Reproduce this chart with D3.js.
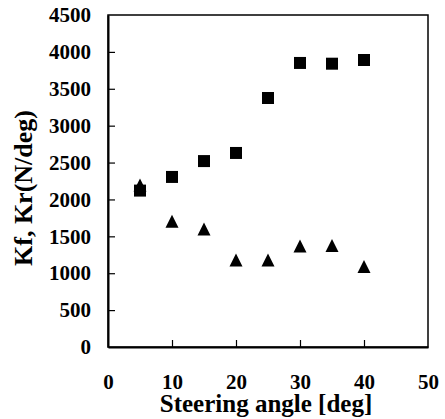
<!DOCTYPE html>
<html>
<head>
<meta charset="utf-8">
<script src="https://cdn.jsdelivr.net/npm/d3@7"></script>
<style>
  body { margin: 0; background: #fff; }
  text { font-family: "Liberation Serif", serif; font-weight: bold; }
</style>
</head>
<body>
<script>
// data
const angles = [5, 10, 15, 20, 25, 30, 35, 40]
const kf = [2120, 2305, 2520, 2630, 3375, 3850, 3840, 3890]   // squares
const kr = [2195, 1705, 1600, 1180, 1180, 1370, 1375, 1090]   // triangles
const x_ticks = [0, 10, 20, 30, 40, 50]
const y_ticks = [0, 500, 1000, 1500, 2000, 2500, 3000, 3500, 4000, 4500]

const width = 445, height = 419
const plot = {left: 108, right: 428, top: 15, bottom: 347}

const svg = d3.select('body').append('svg')
    .attr('width', width)
    .attr('height', height)

const x = d3.scaleLinear().domain([0, 50]).range([plot.left, plot.right])
const y = d3.scaleLinear().domain([0, 4500]).range([plot.bottom, plot.top])

// frame
svg.append('rect')
    .attr('x', plot.left)
    .attr('y', plot.top)
    .attr('width', plot.right - plot.left)
    .attr('height', plot.bottom - plot.top)
    .style('fill', 'none')
    .style('stroke', '#000')
    .style('stroke-width', 1.5)

// axes, ticks pointing inside
const y_axis = svg.append('g')
    .attr('transform', `translate(${plot.left},0)`)
    .call(d3.axisLeft(y).tickValues(y_ticks).tickFormat(d3.format('d'))
        .tickSizeInner(-7).tickSizeOuter(0).tickPadding(17))
const x_axis = svg.append('g')
    .attr('transform', `translate(0,${plot.bottom})`)
    .call(d3.axisBottom(x).tickValues(x_ticks).tickFormat(d3.format('d'))
        .tickSizeInner(-7).tickSizeOuter(0).tickPadding(27))

for (const ax of [x_axis, y_axis]) {
    ax.attr('font-family', null)
    ax.select('.domain').style('stroke-width', 2)
    ax.selectAll('line').style('stroke-width', 1.2)
    ax.selectAll('text')
        .style('font-size', '21px')
        .style('fill', '#000')
}
x_axis.selectAll('.tick').filter(d => d == 0 || d == 50).select('line').remove()
y_axis.selectAll('.tick').filter(d => d == 0 || d == 4500).select('line').remove()

// triangle centred on its bounding box, like the spreadsheet marker
const bbox_triangle = {
    draw(context, size) {
        const s = Math.sqrt(size)
        context.moveTo(0, -s / 2)
        context.lineTo(s / 2, s / 2)
        context.lineTo(-s / 2, s / 2)
        context.closePath()
    }
}

svg.append('g').selectAll('path')
    .data(angles)
    .enter()
    .append('path')
    .attr('d', d3.symbol().type(bbox_triangle).size(169))
    .attr('transform', (d, i) => `translate(${x(d)},${y(kr[i])})`)
    .style('fill', '#000')

svg.append('g').selectAll('path')
    .data(angles)
    .enter()
    .append('path')
    .attr('d', d3.symbol().type(d3.symbolSquare).size(144))
    .attr('transform', (d, i) => `translate(${x(d)},${y(kf[i])})`)
    .style('fill', '#000')

// titles
svg.append('text')
    .text('Steering angle [deg]')
    .attr('x', (plot.left + plot.right) / 2 - 2)
    .attr('y', 412)
    .attr('text-anchor', 'middle')
    .style('font-size', '25px')

svg.append('text')
    .text('Kf, Kr(N/deg)')
    .attr('transform', 'translate(32,188) rotate(-90)')
    .attr('text-anchor', 'middle')
    .style('font-size', '26px')
</script>
</body>
</html>
